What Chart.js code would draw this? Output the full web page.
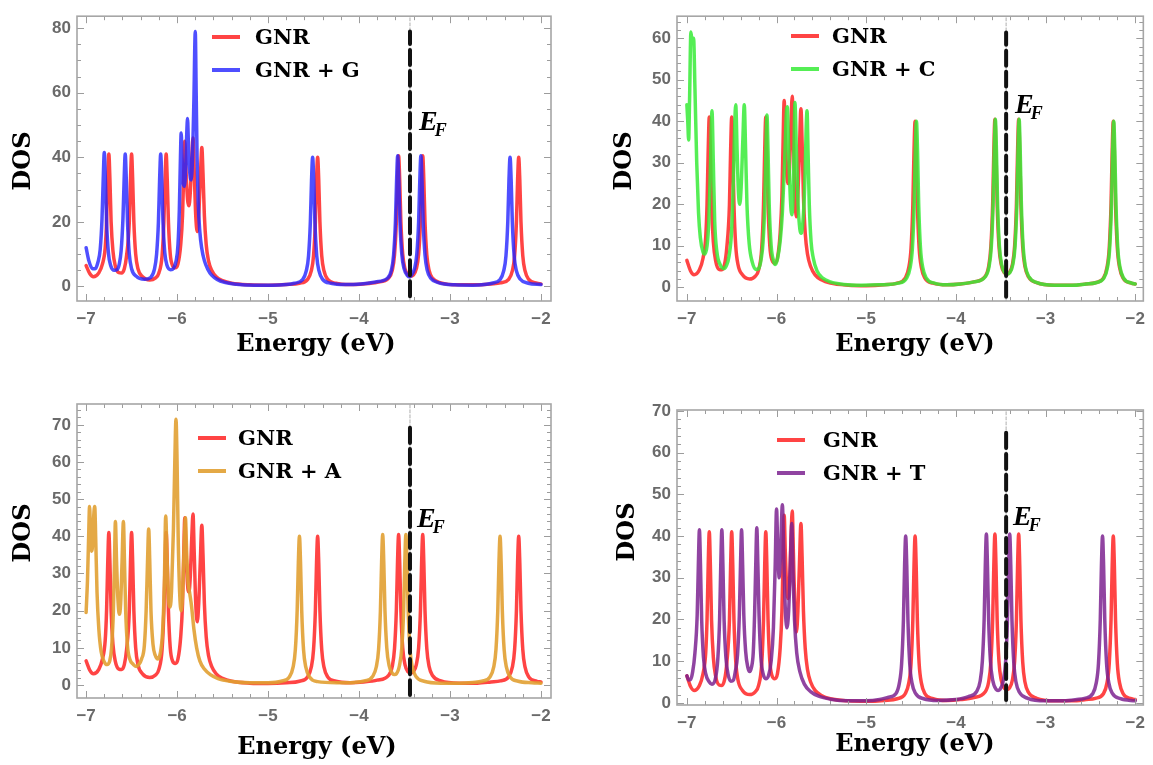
<!DOCTYPE html>
<html>
<head>
<meta charset="utf-8">
<script src="https://cdn.jsdelivr.net/npm/chart.js@4.4.1/dist/chart.umd.min.js"></script>
<style>
  html, body { margin: 0; padding: 0; background: #fff; }
  body { width: 1153px; height: 765px; position: relative; overflow: hidden; }
  canvas { position: absolute; }
</style>
</head>
<body>
<canvas id="c1" width="576" height="382" style="left:0;top:0"></canvas>
<canvas id="c2" width="577" height="382" style="left:576px;top:0"></canvas>
<canvas id="c3" width="576" height="383" style="left:0;top:382px"></canvas>
<canvas id="c4" width="577" height="383" style="left:576px;top:382px"></canvas>
<script>
// energy axis ticks (eV)
var xTicks = [-7, -6, -5, -4, -3, -2];
// Fermi level (eV)
var fermiEnergy = -3.44;

// pristine GNR: [energy, DOS]
var gnr = [
  [-7.00, 6.5], [-6.96, 4.0], [-6.92, 3.0], [-6.86, 4.2], [-6.82, 7.0], [-6.79, 12], [-6.775, 20],
  [-6.762, 33], [-6.75, 41], [-6.738, 33], [-6.725, 20], [-6.705, 11], [-6.68, 6.5], [-6.64, 4.3],
  [-6.61, 4.2], [-6.58, 5.5], [-6.555, 9.5], [-6.525, 20], [-6.512, 33], [-6.50, 41], [-6.488, 33],
  [-6.475, 20], [-6.455, 10], [-6.43, 5.5], [-6.38, 3.0], [-6.30, 2.0], [-6.24, 2.6], [-6.20, 4.2],
  [-6.165, 9.5], [-6.145, 20], [-6.132, 33], [-6.12, 41], [-6.108, 33], [-6.095, 20], [-6.075, 10],
  [-6.05, 6.5], [-6.02, 5.8], [-5.99, 7], [-5.96, 13], [-5.94, 22], [-5.927, 35], [-5.915, 45],
  [-5.902, 36], [-5.885, 27], [-5.87, 25], [-5.855, 29], [-5.838, 40], [-5.825, 46], [-5.812, 36],
  [-5.795, 22], [-5.778, 17], [-5.762, 22], [-5.745, 33], [-5.728, 43], [-5.715, 35], [-5.70, 22],
  [-5.68, 13], [-5.655, 8], [-5.62, 5], [-5.57, 3], [-5.50, 1.8], [-5.40, 1.0], [-5.20, 0.5],
  [-5.00, 0.4], [-4.80, 0.6], [-4.655, 1.0], [-4.565, 2.2], [-4.525, 4.8], [-4.50, 9.5], [-4.48, 20],
  [-4.467, 33], [-4.455, 40], [-4.443, 33], [-4.43, 20], [-4.41, 9.5], [-4.385, 4.8], [-4.345, 2.2],
  [-4.255, 1.0], [-4.10, 0.6], [-3.95, 0.8], [-3.80, 1.3], [-3.675, 2.6], [-3.635, 5.0], [-3.61, 9.8],
  [-3.59, 20], [-3.577, 33], [-3.565, 40.5], [-3.553, 33], [-3.54, 20], [-3.52, 10], [-3.495, 5.5],
  [-3.46, 3.5], [-3.432, 3.2], [-3.405, 3.5], [-3.37, 5.5], [-3.345, 10], [-3.325, 20], [-3.312, 33],
  [-3.30, 40.5], [-3.288, 33], [-3.275, 20], [-3.255, 9.8], [-3.23, 5.0], [-3.19, 2.5], [-3.10, 1.1],
  [-2.90, 0.5], [-2.70, 0.5], [-2.55, 0.8], [-2.445, 1.1], [-2.355, 2.2], [-2.315, 4.8], [-2.29, 9.5],
  [-2.27, 20], [-2.257, 33], [-2.245, 40], [-2.233, 33], [-2.22, 20], [-2.20, 9.5], [-2.175, 4.8],
  [-2.135, 2.2], [-2.045, 1.0], [-2.00, 0.8]
];

// GNR + G
var gnrG = [
  [-7.00, 12], [-6.97, 8], [-6.93, 5.5], [-6.90, 5.5], [-6.87, 7.5], [-6.845, 11.5], [-6.825, 21],
  [-6.812, 33], [-6.80, 41.5], [-6.788, 33], [-6.775, 20], [-6.755, 10.5], [-6.73, 6.5], [-6.69, 5],
  [-6.66, 5.2], [-6.635, 7], [-6.615, 11], [-6.595, 21], [-6.582, 33], [-6.57, 41], [-6.558, 33],
  [-6.545, 20], [-6.525, 10], [-6.50, 5.5], [-6.45, 3.2], [-6.36, 2.2], [-6.29, 2.8], [-6.25, 5.2],
  [-6.225, 10], [-6.205, 20], [-6.192, 33], [-6.18, 41], [-6.168, 33], [-6.155, 20], [-6.135, 10.5],
  [-6.11, 6.5], [-6.07, 5.2], [-6.04, 5.6], [-6.01, 8], [-5.99, 13], [-5.975, 24], [-5.963, 40],
  [-5.955, 47.5], [-5.945, 40], [-5.932, 32], [-5.92, 31], [-5.905, 37], [-5.893, 48], [-5.885, 52],
  [-5.875, 44], [-5.86, 35], [-5.845, 33], [-5.83, 40], [-5.815, 58], [-5.80, 79], [-5.79, 60],
  [-5.78, 40], [-5.768, 26], [-5.75, 17], [-5.73, 12], [-5.70, 8], [-5.66, 5.2], [-5.62, 3.5],
  [-5.56, 2.2], [-5.48, 1.3], [-5.35, 0.7], [-5.15, 0.4], [-4.95, 0.4], [-4.80, 0.6], [-4.71, 1.0],
  [-4.62, 2.1], [-4.58, 4.8], [-4.555, 9.5], [-4.535, 20], [-4.522, 33], [-4.51, 40], [-4.498, 33],
  [-4.485, 20], [-4.465, 9.5], [-4.44, 4.8], [-4.40, 2.2], [-4.31, 1.0], [-4.15, 0.6], [-3.98, 0.8],
  [-3.82, 1.4], [-3.685, 2.6], [-3.645, 5], [-3.62, 9.8], [-3.60, 20], [-3.587, 33], [-3.575, 40.5],
  [-3.563, 33], [-3.55, 20], [-3.53, 10], [-3.505, 5.5], [-3.465, 3.3], [-3.447, 3.0], [-3.43, 3.3],
  [-3.39, 5.5], [-3.365, 10], [-3.345, 20], [-3.332, 33], [-3.32, 40.5], [-3.308, 33], [-3.295, 20],
  [-3.275, 9.8], [-3.25, 5], [-3.21, 2.5], [-3.12, 1.1], [-2.95, 0.5], [-2.75, 0.4], [-2.60, 0.7],
  [-2.54, 1.0], [-2.45, 2.1], [-2.41, 4.8], [-2.385, 9.5], [-2.365, 20], [-2.352, 33], [-2.34, 40],
  [-2.328, 33], [-2.315, 20], [-2.295, 9.5], [-2.27, 4.8], [-2.23, 2.3], [-2.14, 1.0], [-2.00, 0.6]
];

// GNR + C
var gnrC = [
  [-7.00, 44], [-6.99, 40], [-6.98, 35.5], [-6.97, 45], [-6.955, 61.5], [-6.94, 59], [-6.925, 60],
  [-6.91, 48], [-6.89, 30], [-6.87, 18], [-6.85, 12], [-6.82, 8.5], [-6.80, 8], [-6.775, 10],
  [-6.755, 16], [-6.738, 28], [-6.72, 42.5], [-6.705, 30], [-6.69, 16], [-6.665, 8.5], [-6.63, 5.5],
  [-6.59, 4.5], [-6.56, 5.2], [-6.53, 7.5], [-6.50, 14], [-6.48, 27], [-6.465, 40], [-6.455, 44],
  [-6.44, 33], [-6.425, 23], [-6.41, 20], [-6.395, 24], [-6.375, 36], [-6.36, 44], [-6.345, 33],
  [-6.33, 20], [-6.305, 10.5], [-6.27, 6], [-6.23, 4.3], [-6.20, 4.5], [-6.17, 7], [-6.15, 11],
  [-6.13, 21], [-6.118, 33], [-6.107, 41.5], [-6.095, 33], [-6.082, 20], [-6.06, 10], [-6.035, 6.5],
  [-6.015, 5.5], [-5.99, 6.8], [-5.96, 11], [-5.935, 18], [-5.91, 30], [-5.89, 42], [-5.88, 43.5],
  [-5.865, 33], [-5.845, 21], [-5.83, 17.5], [-5.815, 22], [-5.805, 33], [-5.795, 44.5], [-5.78, 34],
  [-5.76, 20], [-5.74, 14], [-5.725, 13], [-5.705, 16], [-5.685, 25], [-5.67, 38], [-5.66, 42.5],
  [-5.648, 32], [-5.635, 20], [-5.615, 11], [-5.59, 7], [-5.55, 4], [-5.49, 2.3], [-5.40, 1.3],
  [-5.25, 0.7], [-5.05, 0.5], [-4.85, 0.6], [-4.64, 1.0], [-4.55, 2.2], [-4.51, 4.8], [-4.485, 9.5],
  [-4.465, 20], [-4.452, 33], [-4.44, 40], [-4.428, 33], [-4.415, 20], [-4.395, 9.5], [-4.37, 4.8],
  [-4.33, 2.2], [-4.24, 1.0], [-4.10, 0.6], [-3.95, 0.8], [-3.80, 1.3], [-3.67, 2.6], [-3.63, 5],
  [-3.605, 9.8], [-3.585, 20], [-3.572, 33], [-3.56, 40.5], [-3.548, 33], [-3.535, 20], [-3.515, 10],
  [-3.49, 5.5], [-3.455, 3.5], [-3.428, 3.2], [-3.40, 3.5], [-3.365, 5.5], [-3.34, 10], [-3.32, 20],
  [-3.307, 33], [-3.295, 40.5], [-3.283, 33], [-3.27, 20], [-3.25, 9.8], [-3.225, 5], [-3.185, 2.5],
  [-3.095, 1.1], [-2.90, 0.5], [-2.70, 0.5], [-2.55, 0.8], [-2.44, 1.1], [-2.35, 2.2], [-2.31, 4.8],
  [-2.285, 9.5], [-2.265, 20], [-2.252, 33], [-2.24, 40], [-2.228, 33], [-2.215, 20], [-2.195, 9.5],
  [-2.17, 4.8], [-2.13, 2.2], [-2.04, 1.0], [-2.00, 0.8]
];

// GNR + A
var gnrA = [
  [-7.00, 19.5], [-6.985, 28], [-6.972, 40], [-6.962, 48], [-6.952, 42], [-6.94, 36], [-6.928, 38],
  [-6.915, 46], [-6.905, 48], [-6.893, 38], [-6.88, 25], [-6.86, 15], [-6.835, 9], [-6.80, 6.2],
  [-6.77, 5.5], [-6.74, 6.5], [-6.72, 10], [-6.70, 20], [-6.688, 33], [-6.678, 44], [-6.665, 33],
  [-6.65, 23], [-6.635, 19], [-6.62, 22], [-6.605, 33], [-6.59, 44], [-6.578, 33], [-6.565, 20],
  [-6.545, 10.5], [-6.52, 7], [-6.48, 5.5], [-6.45, 5], [-6.42, 5.5], [-6.39, 7], [-6.36, 10.5],
  [-6.34, 20], [-6.325, 33], [-6.312, 42], [-6.30, 33], [-6.287, 20], [-6.265, 11], [-6.24, 8],
  [-6.21, 7], [-6.185, 8.5], [-6.16, 14], [-6.14, 27], [-6.125, 45.5], [-6.11, 34], [-6.093, 23],
  [-6.075, 21], [-6.06, 26], [-6.04, 42], [-6.025, 60], [-6.012, 71.5], [-6.00, 60], [-5.988, 40],
  [-5.972, 25], [-5.955, 20], [-5.94, 24], [-5.925, 35], [-5.908, 45], [-5.895, 36], [-5.88, 28],
  [-5.86, 24.5], [-5.84, 21], [-5.815, 15], [-5.785, 10], [-5.75, 6.5], [-5.70, 4.3], [-5.63, 2.7],
  [-5.55, 1.7], [-5.42, 1.0], [-5.20, 0.6], [-5.00, 0.6], [-4.855, 1.0], [-4.765, 2.2], [-4.725, 4.8],
  [-4.70, 9.5], [-4.68, 20], [-4.667, 33], [-4.655, 40], [-4.643, 33], [-4.63, 20], [-4.61, 9.5],
  [-4.585, 4.8], [-4.545, 2.2], [-4.455, 0.9], [-4.25, 0.6], [-4.05, 0.7], [-3.94, 1.1], [-3.85, 2.3],
  [-3.81, 4.9], [-3.785, 9.6], [-3.765, 20], [-3.752, 33], [-3.74, 40.5], [-3.728, 33], [-3.715, 20],
  [-3.695, 10], [-3.67, 5.3], [-3.63, 3.0], [-3.61, 2.8], [-3.59, 3.0], [-3.555, 5.3], [-3.53, 10],
  [-3.51, 20], [-3.497, 33], [-3.485, 40.5], [-3.473, 33], [-3.46, 20], [-3.44, 9.6], [-3.415, 4.9],
  [-3.375, 2.3], [-3.285, 1.0], [-3.10, 0.5], [-2.90, 0.5], [-2.75, 0.7], [-2.65, 1.0], [-2.56, 2.2],
  [-2.52, 4.8], [-2.495, 9.5], [-2.475, 20], [-2.462, 33], [-2.45, 40], [-2.438, 33], [-2.425, 20],
  [-2.405, 9.5], [-2.38, 4.8], [-2.34, 2.2], [-2.25, 1.0], [-2.10, 0.6], [-2.00, 0.5]
];

// GNR + T
var gnrT = [
  [-7.00, 6.5], [-6.98, 5.5], [-6.96, 5.6], [-6.935, 7.5], [-6.91, 12], [-6.885, 21], [-6.872, 33],
  [-6.86, 41.5], [-6.848, 33], [-6.835, 20], [-6.815, 11], [-6.79, 7], [-6.75, 5], [-6.72, 4.5],
  [-6.68, 6], [-6.655, 10.5], [-6.635, 20], [-6.622, 33], [-6.61, 41.5], [-6.598, 33], [-6.585, 20],
  [-6.565, 11], [-6.54, 6.8], [-6.51, 5.2], [-6.48, 5.5], [-6.46, 7.5], [-6.435, 11.5], [-6.415, 21],
  [-6.402, 33], [-6.39, 41.5], [-6.378, 33], [-6.365, 21], [-6.345, 12.5], [-6.32, 8.5], [-6.30, 7.5],
  [-6.28, 8.5], [-6.26, 12], [-6.245, 21], [-6.232, 33], [-6.22, 42], [-6.208, 33], [-6.195, 21],
  [-6.175, 11], [-6.15, 7], [-6.12, 5.8], [-6.09, 6.5], [-6.06, 10], [-6.035, 18], [-6.015, 33],
  [-6.00, 46.5], [-5.985, 36], [-5.97, 30], [-5.955, 36], [-5.935, 47.5], [-5.92, 36], [-5.905, 24],
  [-5.885, 18], [-5.865, 22], [-5.848, 32], [-5.83, 43], [-5.815, 30], [-5.80, 20], [-5.775, 12],
  [-5.74, 7.5], [-5.69, 4.5], [-5.62, 2.7], [-5.53, 1.6], [-5.40, 0.9], [-5.20, 0.5], [-5.00, 0.5],
  [-4.85, 0.8], [-4.76, 1.3], [-4.67, 2.2], [-4.63, 4.8], [-4.605, 9.5], [-4.585, 20], [-4.572, 33],
  [-4.56, 40], [-4.548, 33], [-4.535, 20], [-4.515, 9.5], [-4.49, 4.8], [-4.45, 2.3], [-4.36, 1.0],
  [-4.20, 0.6], [-4.00, 0.8], [-3.86, 1.5], [-3.77, 2.7], [-3.73, 5.2], [-3.705, 10], [-3.685, 20],
  [-3.672, 33], [-3.66, 40.5], [-3.648, 33], [-3.635, 20], [-3.615, 10], [-3.59, 5.5], [-3.55, 3.2],
  [-3.53, 3.0], [-3.51, 3.2], [-3.47, 5.5], [-3.445, 10], [-3.425, 20], [-3.412, 33], [-3.40, 40.5],
  [-3.388, 33], [-3.375, 20], [-3.355, 9.8], [-3.33, 5], [-3.29, 2.5], [-3.20, 1.1], [-3.00, 0.5],
  [-2.80, 0.5], [-2.65, 0.8], [-2.565, 1.1], [-2.475, 2.2], [-2.435, 4.8], [-2.41, 9.5], [-2.39, 20],
  [-2.377, 33], [-2.365, 40], [-2.353, 33], [-2.34, 20], [-2.32, 9.5], [-2.295, 4.8], [-2.255, 2.3],
  [-2.165, 1.0], [-2.00, 0.5]
];

var red = 'rgba(255,35,35,0.85)';

var panels = [
  { id: 'c1', series: gnrG, label: 'GNR + G', color: 'rgba(35,35,255,0.8)',
    xMin: -7.1, xMax: -1.89, yMin: -4.5, yMax: 83.7, yStep: 20, yMinor: 5,
    pad: { left: 77, right: 25, top: 6, xh: 81 }, ef: [-3, 79],
    dos: [24, 161], energy: [316, 345], efText: [419, 130], legend: [212, 37, 255] },
  { id: 'c2', series: gnrC, label: 'GNR + C', color: 'rgba(55,235,55,0.85)',
    xMin: -7.11, xMax: -1.91, yMin: -3.3, yMax: 65.3, yStep: 10, yMinor: 2,
    pad: { left: 101, right: 3, top: 6, xh: 81 }, ef: [-2.3, 61.4],
    dos: [49, 161], energy: [339, 345], efText: [439, 113], legend: [215, 36, 256] },
  { id: 'c3', series: gnrA, label: 'GNR + A', color: 'rgba(225,160,50,0.9)',
    xMin: -7.1, xMax: -1.89, yMin: -3.5, yMax: 75.6, yStep: 10, yMinor: 2,
    pad: { left: 77, right: 25, top: 22, xh: 67 }, ef: [-2.7, 70.5],
    dos: [24, 151], energy: [317, 366], efText: [417, 145], legend: [198, 56, 238] },
  { id: 'c4', series: gnrT, label: 'GNR + T', color: 'rgba(125,35,145,0.85)',
    xMin: -7.11, xMax: -1.91, yMin: -0.5, yMax: 70.2, yStep: 10, yMinor: 2,
    pad: { left: 101, right: 3, top: 28, xh: 60 }, ef: [0.7, 65.7],
    dos: [52, 150], energy: [339, 363], efText: [437, 143], legend: [201, 58, 247] }
];

function pts(pairs) {
  return pairs.map(function (p) { return { x: p[0], y: p[1] }; });
}

function makeDecor(p) {
  return {
    id: 'decor',
    afterDraw: function (chart) {
      var ctx = chart.ctx, a = chart.chartArea, x = chart.scales.x, y = chart.scales.y;
      ctx.save();
      // inward ticks on all four sides
      ctx.strokeStyle = '#9c9c9c';
      ctx.lineWidth = 1;
      ctx.beginPath();
      for (var i = 0; i <= 25; i++) {
        var px = Math.round(x.getPixelForValue(xTicks[0] + i * 0.2)) + 0.5;
        var len = i % 5 === 0 ? 7 : 4;
        ctx.moveTo(px, a.bottom); ctx.lineTo(px, a.bottom - len);
        ctx.moveTo(px, a.top); ctx.lineTo(px, a.top + len);
      }
      var n = Math.floor(p.yMax / p.yMinor);
      for (var j = 0; j <= n; j++) {
        var v = j * p.yMinor;
        var py = Math.round(y.getPixelForValue(v)) + 0.5;
        var l2 = v % p.yStep === 0 ? 7 : 4;
        ctx.moveTo(a.left, py); ctx.lineTo(a.left + l2, py);
        ctx.moveTo(a.right, py); ctx.lineTo(a.right - l2, py);
      }
      ctx.stroke();
      // frame
      ctx.strokeStyle = '#a6a6a6';
      ctx.lineWidth = 1.6;
      ctx.strokeRect(a.left, a.top, a.right - a.left, a.bottom - a.top);

      // legend
      var lg = p.legend;
      var rows = [['GNR', red], [p.label, p.color]];
      ctx.font = 'bold 21px "DejaVu Serif"';
      ctx.textBaseline = 'middle';
      ctx.textAlign = 'left';
      rows.forEach(function (r, k) {
        var yy = lg[1] + k * 33;
        ctx.strokeStyle = r[1];
        ctx.lineWidth = 4;
        ctx.beginPath(); ctx.moveTo(lg[0], yy); ctx.lineTo(lg[0] + 28, yy); ctx.stroke();
        ctx.fillStyle = '#000';
        ctx.fillText(r[0], lg[2], yy + 2);
      });

      // E_F label
      ctx.textBaseline = 'alphabetic';
      ctx.font = 'italic bold 28px "Liberation Serif"';
      ctx.fillText('E', p.efText[0], p.efText[1]);
      var w = ctx.measureText('E').width;
      ctx.font = 'italic bold 18px "Liberation Serif"';
      ctx.fillText('F', p.efText[0] + w - 3, p.efText[1] + 6);

      // axis titles
      ctx.font = 'bold 24px "DejaVu Serif"';
      ctx.textAlign = 'center';
      ctx.textBaseline = 'middle';
      ctx.fillText('Energy (eV)', p.energy[0], p.energy[1]);
      ctx.save();
      ctx.translate(p.dos[0], p.dos[1]);
      ctx.rotate(-Math.PI / 2);
      ctx.fillText('DOS', 0, 0);
      ctx.restore();
      ctx.restore();
    }
  };
}

var tickFont = { family: '"Liberation Sans", Arial, sans-serif', weight: 'bold', size: 17 };

panels.forEach(function (p) {
  new Chart(document.getElementById(p.id), {
    type: 'line',
    data: {
      datasets: [{
        data: [{ x: fermiEnergy, y: p.ef[0] }, { x: fermiEnergy, y: p.ef[1] }],
        borderColor: '#111',
        borderWidth: 4,
        borderDash: [15, 6],
        order: 0
      }, {
        label: p.label,
        data: pts(p.series),
        borderColor: p.color,
        borderWidth: 3.5,
        order: 1
      }, {
        label: 'GNR',
        data: pts(gnr),
        borderColor: red,
        borderWidth: 3.5,
        order: 2
      }, {
        data: [{ x: fermiEnergy, y: p.yMin }, { x: fermiEnergy, y: p.yMax }],
        borderColor: 'rgba(150,150,150,0.8)',
        borderWidth: 1,
        borderDash: [3, 2],
        order: 3
      }]
    },
    options: {
      responsive: false,
      devicePixelRatio: 1,
      animation: false,
      events: [],
      layout: { padding: { left: 0, right: p.pad.right, top: p.pad.top, bottom: 0 } },
      elements: {
        point: { radius: 0 },
        line: { cubicInterpolationMode: 'monotone', fill: false, borderJoinStyle: 'round', borderCapStyle: 'round' }
      },
      plugins: { legend: { display: false }, tooltip: { enabled: false } },
      scales: {
        x: {
          type: 'linear',
          min: p.xMin,
          max: p.xMax,
          afterFit: function (s) { s.height = p.pad.xh; },
          grid: { display: false, drawTicks: false },
          border: { display: false },
          ticks: {
            stepSize: 1, includeBounds: false, autoSkip: false, maxRotation: 0,
            padding: 8, color: '#6a6a6a', font: tickFont,
            callback: function (v) { return String(v).replace('-', '\u2212'); }
          }
        },
        y: {
          type: 'linear',
          min: p.yMin,
          max: p.yMax,
          afterFit: function (s) { s.width = p.pad.left; },
          grid: { display: false, drawTicks: false },
          border: { display: false },
          ticks: {
            stepSize: p.yStep, includeBounds: false, autoSkip: false,
            padding: 6, color: '#6a6a6a', font: tickFont
          }
        }
      }
    },
    plugins: [makeDecor(p)]
  });
});
</script>
</body>
</html>
